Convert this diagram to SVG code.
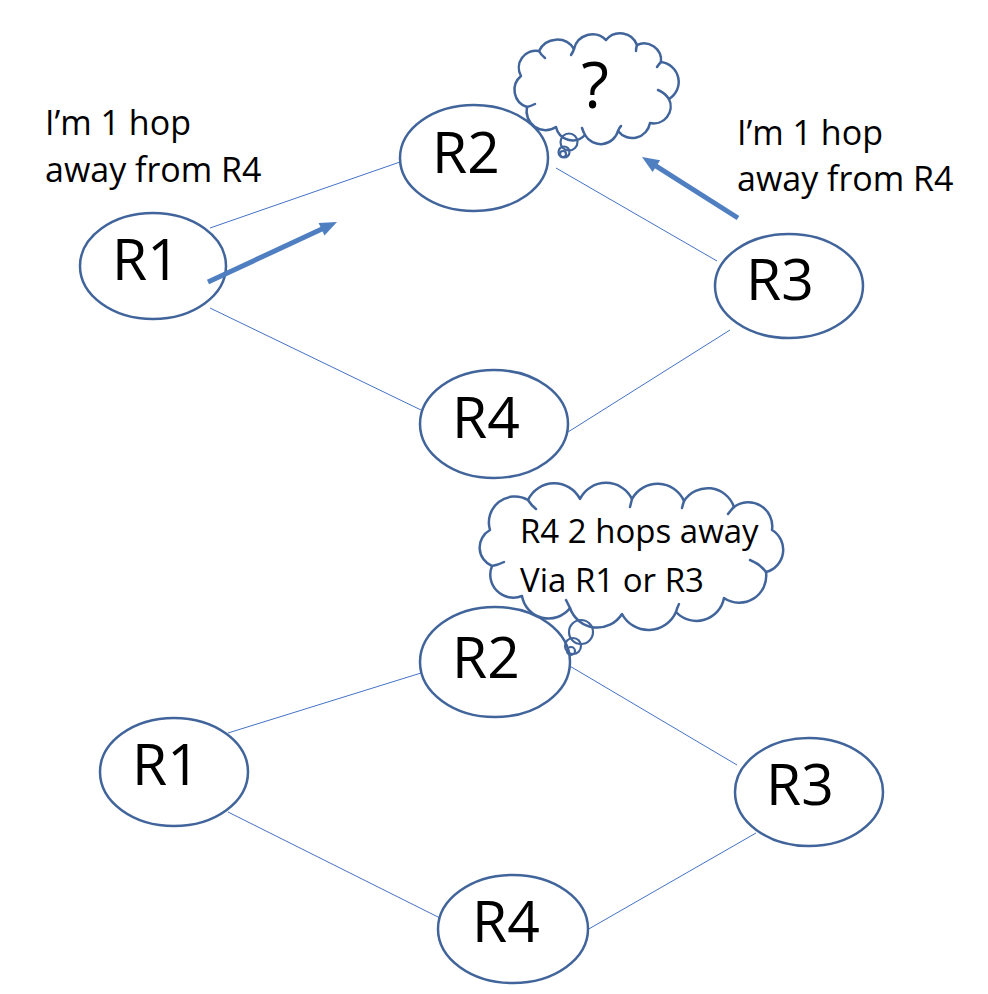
<svg xmlns="http://www.w3.org/2000/svg" width="988" height="994" viewBox="0 0 988 994">
<style>
.node{fill:#fff;stroke:#41659B;stroke-width:2.5}
.nt{font-family:"Open Sans","Liberation Sans",sans-serif;font-size:57px;fill:#000;text-anchor:middle}
.lbl{font-family:"Open Sans","Liberation Sans",sans-serif;font-size:34px;fill:#000}
.ctext{font-family:"Open Sans","Liberation Sans",sans-serif;font-size:33px;fill:#000}
.link{stroke:#4472C4;stroke-width:1;fill:none}
.cloud{fill:#fff;stroke:#41659B;stroke-width:2.5;stroke-linejoin:round}
.inner{fill:none;stroke:#41659B;stroke-width:2.5;stroke-linecap:round}
.bub{fill:none;stroke:#41659B;stroke-width:2.2}
.arr{stroke:#4F7FC0;stroke-width:5;fill:none}
.head{fill:#4F7FC0}
</style>
<rect width="988" height="994" fill="#fff"/>
<g id="connectors">
<line class="link" x1="210" y1="228" x2="400" y2="162"/>
<line class="link" x1="210" y1="308" x2="421" y2="410"/>
<line class="link" x1="556" y1="168" x2="717" y2="261"/>
<line class="link" x1="568" y1="432" x2="730" y2="330"/>
<line class="link" x1="228" y1="733" x2="421" y2="673"/>
<line class="link" x1="228" y1="812" x2="440" y2="918"/>
<line class="link" x1="568" y1="665" x2="737" y2="765"/>
<line class="link" x1="587" y1="930" x2="756" y2="833"/>
</g>
<g id="top-R1"><ellipse class="node" cx="153" cy="266" rx="73" ry="53"/><text class="nt" x="146" y="280">R1</text></g>
<g id="top-R2"><ellipse class="node" cx="474" cy="158" rx="74" ry="53"/><text class="nt" x="466" y="173">R2</text></g>
<g id="top-R4"><ellipse class="node" cx="494" cy="424" rx="74" ry="54"/><text class="nt" x="486" y="438">R4</text></g>
<g id="top-R3"><ellipse class="node" cx="789" cy="286" rx="74" ry="52"/><text class="nt" x="780" y="300">R3</text></g>
<g id="bot-R1"><ellipse class="node" cx="174" cy="772" rx="74" ry="54"/><text class="nt" x="166" y="785">R1</text></g>
<g id="bot-R2"><ellipse class="node" cx="495" cy="662" rx="75" ry="55"/><text class="nt" x="486" y="678">R2</text></g>
<g id="bot-R4"><ellipse class="node" cx="513" cy="929" rx="75" ry="54"/><text class="nt" x="506" y="942">R4</text></g>
<g id="bot-R3"><ellipse class="node" cx="809" cy="792" rx="74" ry="54"/><text class="nt" x="800" y="805">R3</text></g>
<g id="arrow1">
<line class="arr" x1="208" y1="282" x2="323" y2="228.5"/>
<polygon class="head" points="337,222 324.5,235.5 318.6,222.9"/>
</g>
<g id="arrow2">
<line class="arr" x1="738" y1="218" x2="655" y2="165.3"/>
<polygon class="head" points="642,157 660.1,160.2 652.6,172"/>
</g>
<g id="label-left">
<text class="lbl" x="45" y="135">I’m 1 hop</text>
<text class="lbl" x="45" y="182">away from R4</text>
</g>
<g id="label-right">
<text class="lbl" x="737" y="145">I’m 1 hop</text>
<text class="lbl" x="737" y="191">away from R4</text>
</g>
<g id="cloud-top">
<path class="cloud" d="M521,76 A17,17 0 0 1 539,51 A20,20 0 0 1 574,49 A19,19 0 0 1 606,40 A18,18 0 0 1 637,45 A17,17 0 0 1 661,62 A20,20 0 0 1 669,99 A17,17 0 0 1 650,123 A18,18 0 0 1 618,131 A18,18 0 0 1 585,135 A17,17 0 0 1 556,127 A19,19 0 0 1 527,107 A18,18 0 0 1 521,76 Z"/>
<path class="inner" d="M539,51 q2,4 6,7"/>
<path class="inner" d="M574,49 q-1,3 -3,6"/>
<path class="inner" d="M637,45 q-1,3 -1,6"/>
<path class="inner" d="M661,62 q-2,2 -4,5"/>
<path class="inner" d="M669,99 q-4,-6 -11,-9"/>
<path class="inner" d="M618,131 q1,-3 3,-5"/>
<path class="inner" d="M585,135 q-2,-4 -3,-7"/>
<path class="inner" d="M527,107 q4,-1 8,-3"/>
<circle class="bub" cx="569" cy="142" r="8.5"/>
<circle class="bub" cx="564" cy="152" r="5.5"/>
<circle class="bub" cx="563" cy="154" r="3"/>
<text x="595" y="108" text-anchor="middle" style="font-family:'Open Sans','Liberation Sans',sans-serif;font-size:64px;fill:#000">?</text>
</g>
<g id="cloud-bottom">
<path class="cloud" d="M490,530 A26,26 0 0 1 528,500 A29,29 0 0 1 580,499 A29,29 0 0 1 632,499 A29,29 0 0 1 684,501 A28,28 0 0 1 734,507 A24,24 0 0 1 772,530 A23,23 0 0 1 766,572 A27,27 0 0 1 724,598 A28,28 0 0 1 676,612 A30,30 0 0 1 622,614 A29,29 0 0 1 570,608 A27,27 0 0 1 522,596 A23,23 0 0 1 492,566 A20,20 0 0 1 490,530 Z"/>
<path class="inner" d="M528,500 q3,5 8,9"/>
<path class="inner" d="M632,499 q-1,4 -2,8"/>
<path class="inner" d="M684,501 q-1,3 -2,7"/>
<path class="inner" d="M734,507 q-3,3 -6,7"/>
<path class="inner" d="M766,572 q-6,-8 -16,-12"/>
<path class="inner" d="M676,612 q1,-4 3,-8"/>
<path class="inner" d="M570,608 q-2,-4 -4,-8"/>
<path class="inner" d="M492,566 q6,-1 12,-4"/>
<circle class="bub" cx="581" cy="632" r="12"/>
<circle class="bub" cx="573" cy="646" r="8"/>
<circle class="bub" cx="571" cy="651" r="4"/>
<text class="ctext" x="520" y="543">R4 2 hops away</text>
<text class="ctext" x="520" y="592">Via R1 or R3</text>
</g>
</svg>
